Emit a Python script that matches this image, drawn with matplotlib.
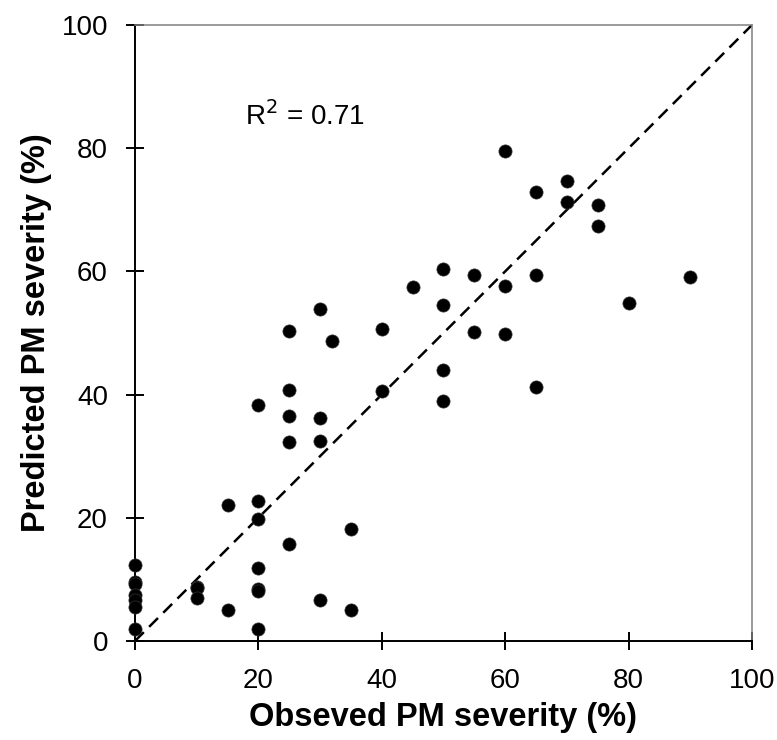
import numpy as np
import matplotlib
matplotlib.use("Agg")
import matplotlib.pyplot as plt

plt.rcParams['font.family'] = ['Liberation Sans', 'DejaVu Sans']

# observed vs predicted PM severity (%)
observed = [0, 0, 0, 0, 0, 0, 0,
            10, 10, 10,
            15, 15,
            20, 20, 20, 20, 20, 20, 20,
            25, 25, 25, 25, 25,
            30, 30, 30, 30,
            32,
            35, 35,
            40, 40,
            45,
            50, 50, 50, 50,
            55, 55,
            60, 60, 60,
            65, 65, 65,
            70, 70,
            75, 75,
            80,
            90]
predicted = [12.3, 9.6, 9.2, 7.5, 6.7, 5.5, 2.0,
             8.8, 8.6, 7.0,
             22.0, 5.0,
             38.3, 22.8, 19.8, 11.9, 8.4, 8.1, 2.0,
             50.3, 40.8, 36.5, 32.3, 15.8,
             53.9, 36.2, 32.5, 6.6,
             48.7,
             18.1, 5.0,
             50.7, 40.6,
             57.5,
             60.4, 54.5, 44.0, 38.9,
             59.4, 50.1,
             79.5, 57.6, 49.8,
             72.9, 59.4, 41.2,
             74.6, 71.2,
             70.8, 67.3,
             54.9,
             59.1]
r2_text = "R$^2$ = 0.71"
ticks = [0, 20, 40, 60, 80, 100]

fig = plt.figure(figsize=(7.77, 7.40), dpi=100)
ax = fig.add_axes([0.1737, 0.1338, 0.7941, 0.8324])

# 1:1 line
ax.plot([0, 100], [0, 100], color='black', linestyle=(0, (5, 3)), linewidth=1.8, zorder=1)
ax.scatter(observed, predicted, s=90, color='black', edgecolors='#333333',
           linewidths=0.5, zorder=3, clip_on=False)

ax.set_xlim(0, 100)
ax.set_ylim(0, 100)
ax.set_xticks(ticks)
ax.set_yticks(ticks)
ax.tick_params(direction='inout', length=13, width=1.4, labelsize=20, pad=13)

for side in ['left', 'bottom']:
    ax.spines[side].set_color('black')
    ax.spines[side].set_linewidth(1.4)
for side in ['top', 'right']:
    ax.spines[side].set_color('#808080')
    ax.spines[side].set_linewidth(1.1)

ax.text(17.8, 85.2, r2_text, fontsize=20, va='center', ha='left')

ax.set_xlabel("Obseved PM severity (%)", fontsize=23.5, fontweight='bold', labelpad=6)
ax.set_ylabel("Predicted PM severity (%)", fontsize=23.5, fontweight='bold', labelpad=7)

fig.savefig("out.png", dpi=100)
